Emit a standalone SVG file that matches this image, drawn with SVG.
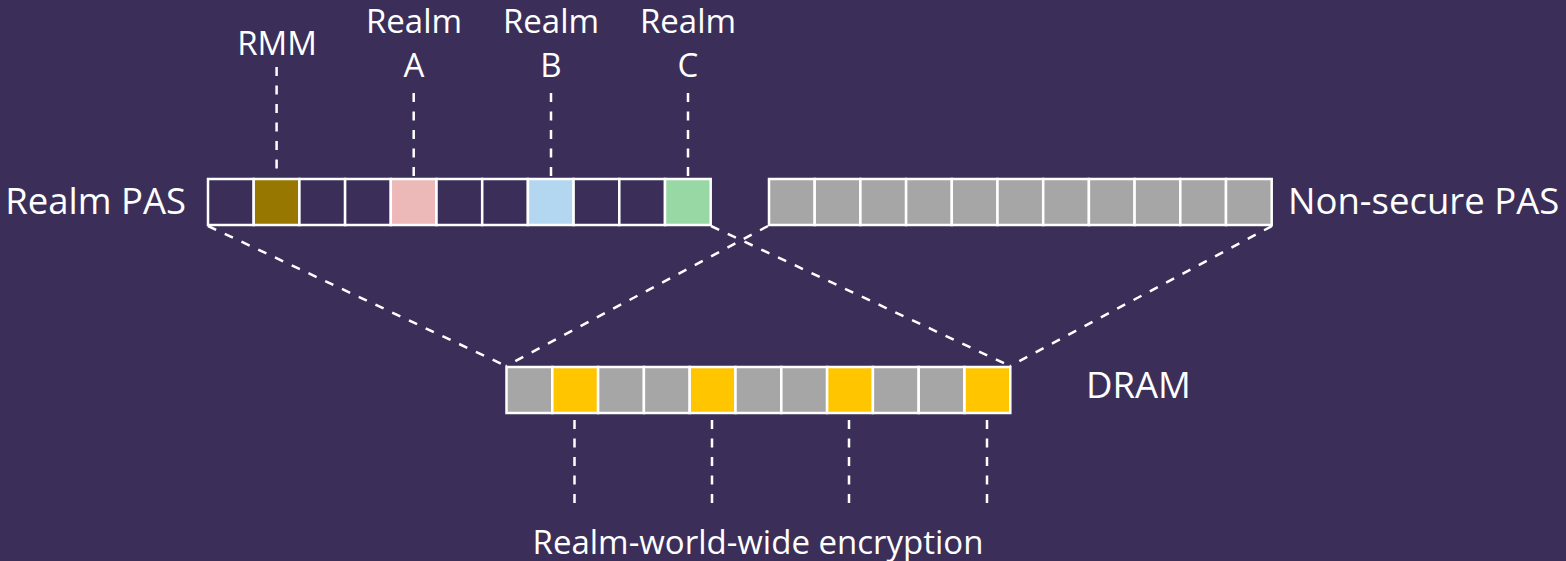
<svg xmlns="http://www.w3.org/2000/svg" width="1566" height="561" viewBox="0 0 1566 561">
<style>
.bg{fill:#3b2f5a}
.cell{stroke:#ffffff;stroke-width:2.5}
.e{fill:#3b2f5a}
.g{fill:#a6a6a6}
.y{fill:#ffc600}
.dash{stroke:#ffffff;stroke-width:2.5;stroke-dasharray:9 9.5;fill:none}
text{font-family:"Open Sans","Noto Sans",sans-serif;font-size:33px;fill:#ffffff}
.big{font-size:36.5px}
.c{text-anchor:middle}
</style>
<rect class="bg" x="0" y="0" width="1566" height="561"/>
<g id="connectors">
<line class="dash" x1="276.6" y1="67" x2="276.6" y2="178"/>
<line class="dash" x1="413.7" y1="93" x2="413.7" y2="178"/>
<line class="dash" x1="551" y1="93" x2="551" y2="178"/>
<line class="dash" x1="688" y1="93" x2="688" y2="178"/>
<line class="dash" x1="208" y1="226" x2="506" y2="366"/>
<line class="dash" x1="711" y1="226" x2="1010" y2="366"/>
<line class="dash" x1="768" y1="226" x2="506" y2="366"/>
<line class="dash" x1="1272" y1="226" x2="1010" y2="366"/>
<line class="dash" x1="574.5" y1="420" x2="574.5" y2="505"/>
<line class="dash" x1="712" y1="420" x2="712" y2="505"/>
<line class="dash" x1="849" y1="420" x2="849" y2="505"/>
<line class="dash" x1="987" y1="420" x2="987" y2="505"/>
</g>
<g id="realm-pas">
<rect class="cell e" x="208" y="179" width="45.7" height="46"/>
<rect class="cell" fill="#977700" x="253.7" y="179" width="45.7" height="46"/>
<rect class="cell e" x="299.4" y="179" width="45.7" height="46"/>
<rect class="cell e" x="345.1" y="179" width="45.7" height="46"/>
<rect class="cell" fill="#ecb8b8" x="390.8" y="179" width="45.7" height="46"/>
<rect class="cell e" x="436.5" y="179" width="45.7" height="46"/>
<rect class="cell e" x="482.2" y="179" width="45.7" height="46"/>
<rect class="cell" fill="#b3d7f0" x="527.9" y="179" width="45.7" height="46"/>
<rect class="cell e" x="573.6" y="179" width="45.7" height="46"/>
<rect class="cell e" x="619.3" y="179" width="45.7" height="46"/>
<rect class="cell" fill="#98d8a4" x="665" y="179" width="45.7" height="46"/>
<text class="big" x="186" y="214" text-anchor="end">Realm PAS</text>
</g>
<g id="ns-pas">
<rect class="cell g" x="769" y="179" width="45.7" height="46"/>
<rect class="cell g" x="814.7" y="179" width="45.7" height="46"/>
<rect class="cell g" x="860.4" y="179" width="45.7" height="46"/>
<rect class="cell g" x="906.1" y="179" width="45.7" height="46"/>
<rect class="cell g" x="951.8" y="179" width="45.7" height="46"/>
<rect class="cell g" x="997.5" y="179" width="45.7" height="46"/>
<rect class="cell g" x="1043.2" y="179" width="45.7" height="46"/>
<rect class="cell g" x="1088.9" y="179" width="45.7" height="46"/>
<rect class="cell g" x="1134.6" y="179" width="45.7" height="46"/>
<rect class="cell g" x="1180.3" y="179" width="45.7" height="46"/>
<rect class="cell g" x="1226" y="179" width="45.7" height="46"/>
<text class="big" x="1288" y="214">Non-secure PAS</text>
</g>
<g id="dram">
<rect class="cell g" x="506.5" y="367" width="45.8" height="46"/>
<rect class="cell y" x="552.3" y="367" width="45.8" height="46"/>
<rect class="cell g" x="598.1" y="367" width="45.8" height="46"/>
<rect class="cell g" x="643.9" y="367" width="45.8" height="46"/>
<rect class="cell y" x="689.7" y="367" width="45.8" height="46"/>
<rect class="cell g" x="735.5" y="367" width="45.8" height="46"/>
<rect class="cell g" x="781.3" y="367" width="45.8" height="46"/>
<rect class="cell y" x="827.1" y="367" width="45.8" height="46"/>
<rect class="cell g" x="872.9" y="367" width="45.8" height="46"/>
<rect class="cell g" x="918.7" y="367" width="45.8" height="46"/>
<rect class="cell y" x="964.5" y="367" width="45.8" height="46"/>
<text class="big" x="1086" y="398">DRAM</text>
</g>
<g id="label-rmm"><text class="c" x="277" y="55">RMM</text></g>
<g id="label-a"><text class="c" x="414" y="33">Realm</text><text class="c" x="414" y="77">A</text></g>
<g id="label-b"><text class="c" x="551" y="33">Realm</text><text class="c" x="551" y="77">B</text></g>
<g id="label-c"><text class="c" x="688" y="33">Realm</text><text class="c" x="688" y="77">C</text></g>
<g id="label-enc"><text class="c" x="758" y="554">Realm-world-wide encryption</text></g>
</svg>
